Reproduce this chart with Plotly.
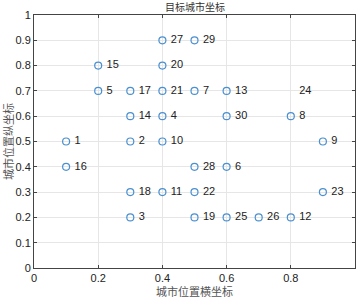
import plotly.graph_objects as go

city_ids = [str(i) for i in range(1, 31)]
city_x = [0.1, 0.3, 0.3, 0.4, 0.2, 0.6, 0.5, 0.8, 0.9, 0.4,
          0.4, 0.8, 0.6, 0.3, 0.2, 0.1, 0.3, 0.3, 0.5, 0.4,
          0.4, 0.5, 0.9, 0.8, 0.6, 0.7, 0.4, 0.5, 0.5, 0.6]
city_y = [0.5, 0.5, 0.2, 0.6, 0.7, 0.4, 0.7, 0.6, 0.5, 0.5,
          0.3, 0.2, 0.7, 0.6, 0.8, 0.4, 0.7, 0.3, 0.2, 0.8,
          0.7, 0.3, 0.3, 0.7, 0.2, 0.2, 0.9, 0.4, 0.9, 0.6]
# city 24's marker is not visible in the reference
marker_visible = [0 if c == "24" else 1 for c in city_ids]

x_ticks = [0, 0.2, 0.4, 0.6, 0.8, 1]
y_ticks = [0, 0.1, 0.2, 0.3, 0.4, 0.5, 0.6, 0.7, 0.8, 0.9, 1]

fig = go.Figure()
fig.add_trace(go.Scatter(
    x=city_x, y=city_y, mode="markers+text",
    text=[" " + c for c in city_ids], textposition="middle right",
    textfont=dict(family="Arial, Liberation Sans", size=11, color="#222222"),
    marker=dict(symbol="circle-open", size=7, color="#4a90d0",
                opacity=marker_visible, line=dict(width=1.2)),
    cliponaxis=False, showlegend=False,
))

axis_common = dict(
    showgrid=True, gridcolor="#e6e6e6", gridwidth=1,
    showline=True, linecolor="#444444", linewidth=1, mirror="ticks",
    ticks="inside", ticklen=3, tickcolor="#444444",
    tickfont=dict(family="Arial, Liberation Sans", size=11, color="#222222"),
    zeroline=False, automargin=False,
)

fig.update_layout(
    width=358, height=299,
    margin=dict(l=34, r=3, t=15, b=31),
    plot_bgcolor="white", paper_bgcolor="white",
    title=dict(text="目标城市坐标", x=0.545, xanchor="center",
               yref="container", y=0.975, yanchor="middle",
               font=dict(family="Noto Sans CJK SC", size=10, color="#333333")),
    xaxis=dict(range=[0, 1], tickvals=x_ticks, ticktext=[str(v) for v in x_ticks],
               title=dict(text="城市位置横坐标", standoff=1,
                          font=dict(family="Noto Sans CJK SC", size=11, color="#555555")),
               **axis_common),
    yaxis=dict(range=[0, 1], tickvals=y_ticks, ticktext=[str(v) for v in y_ticks],
               title=dict(text="城市位置纵坐标", standoff=2,
                          font=dict(family="Noto Sans CJK SC", size=11, color="#555555")),
               **axis_common),
)

fig.write_html("out.html", config={"displayModeBar": False},
               post_script="document.body.style.margin='0';document.body.style.padding='0';")
